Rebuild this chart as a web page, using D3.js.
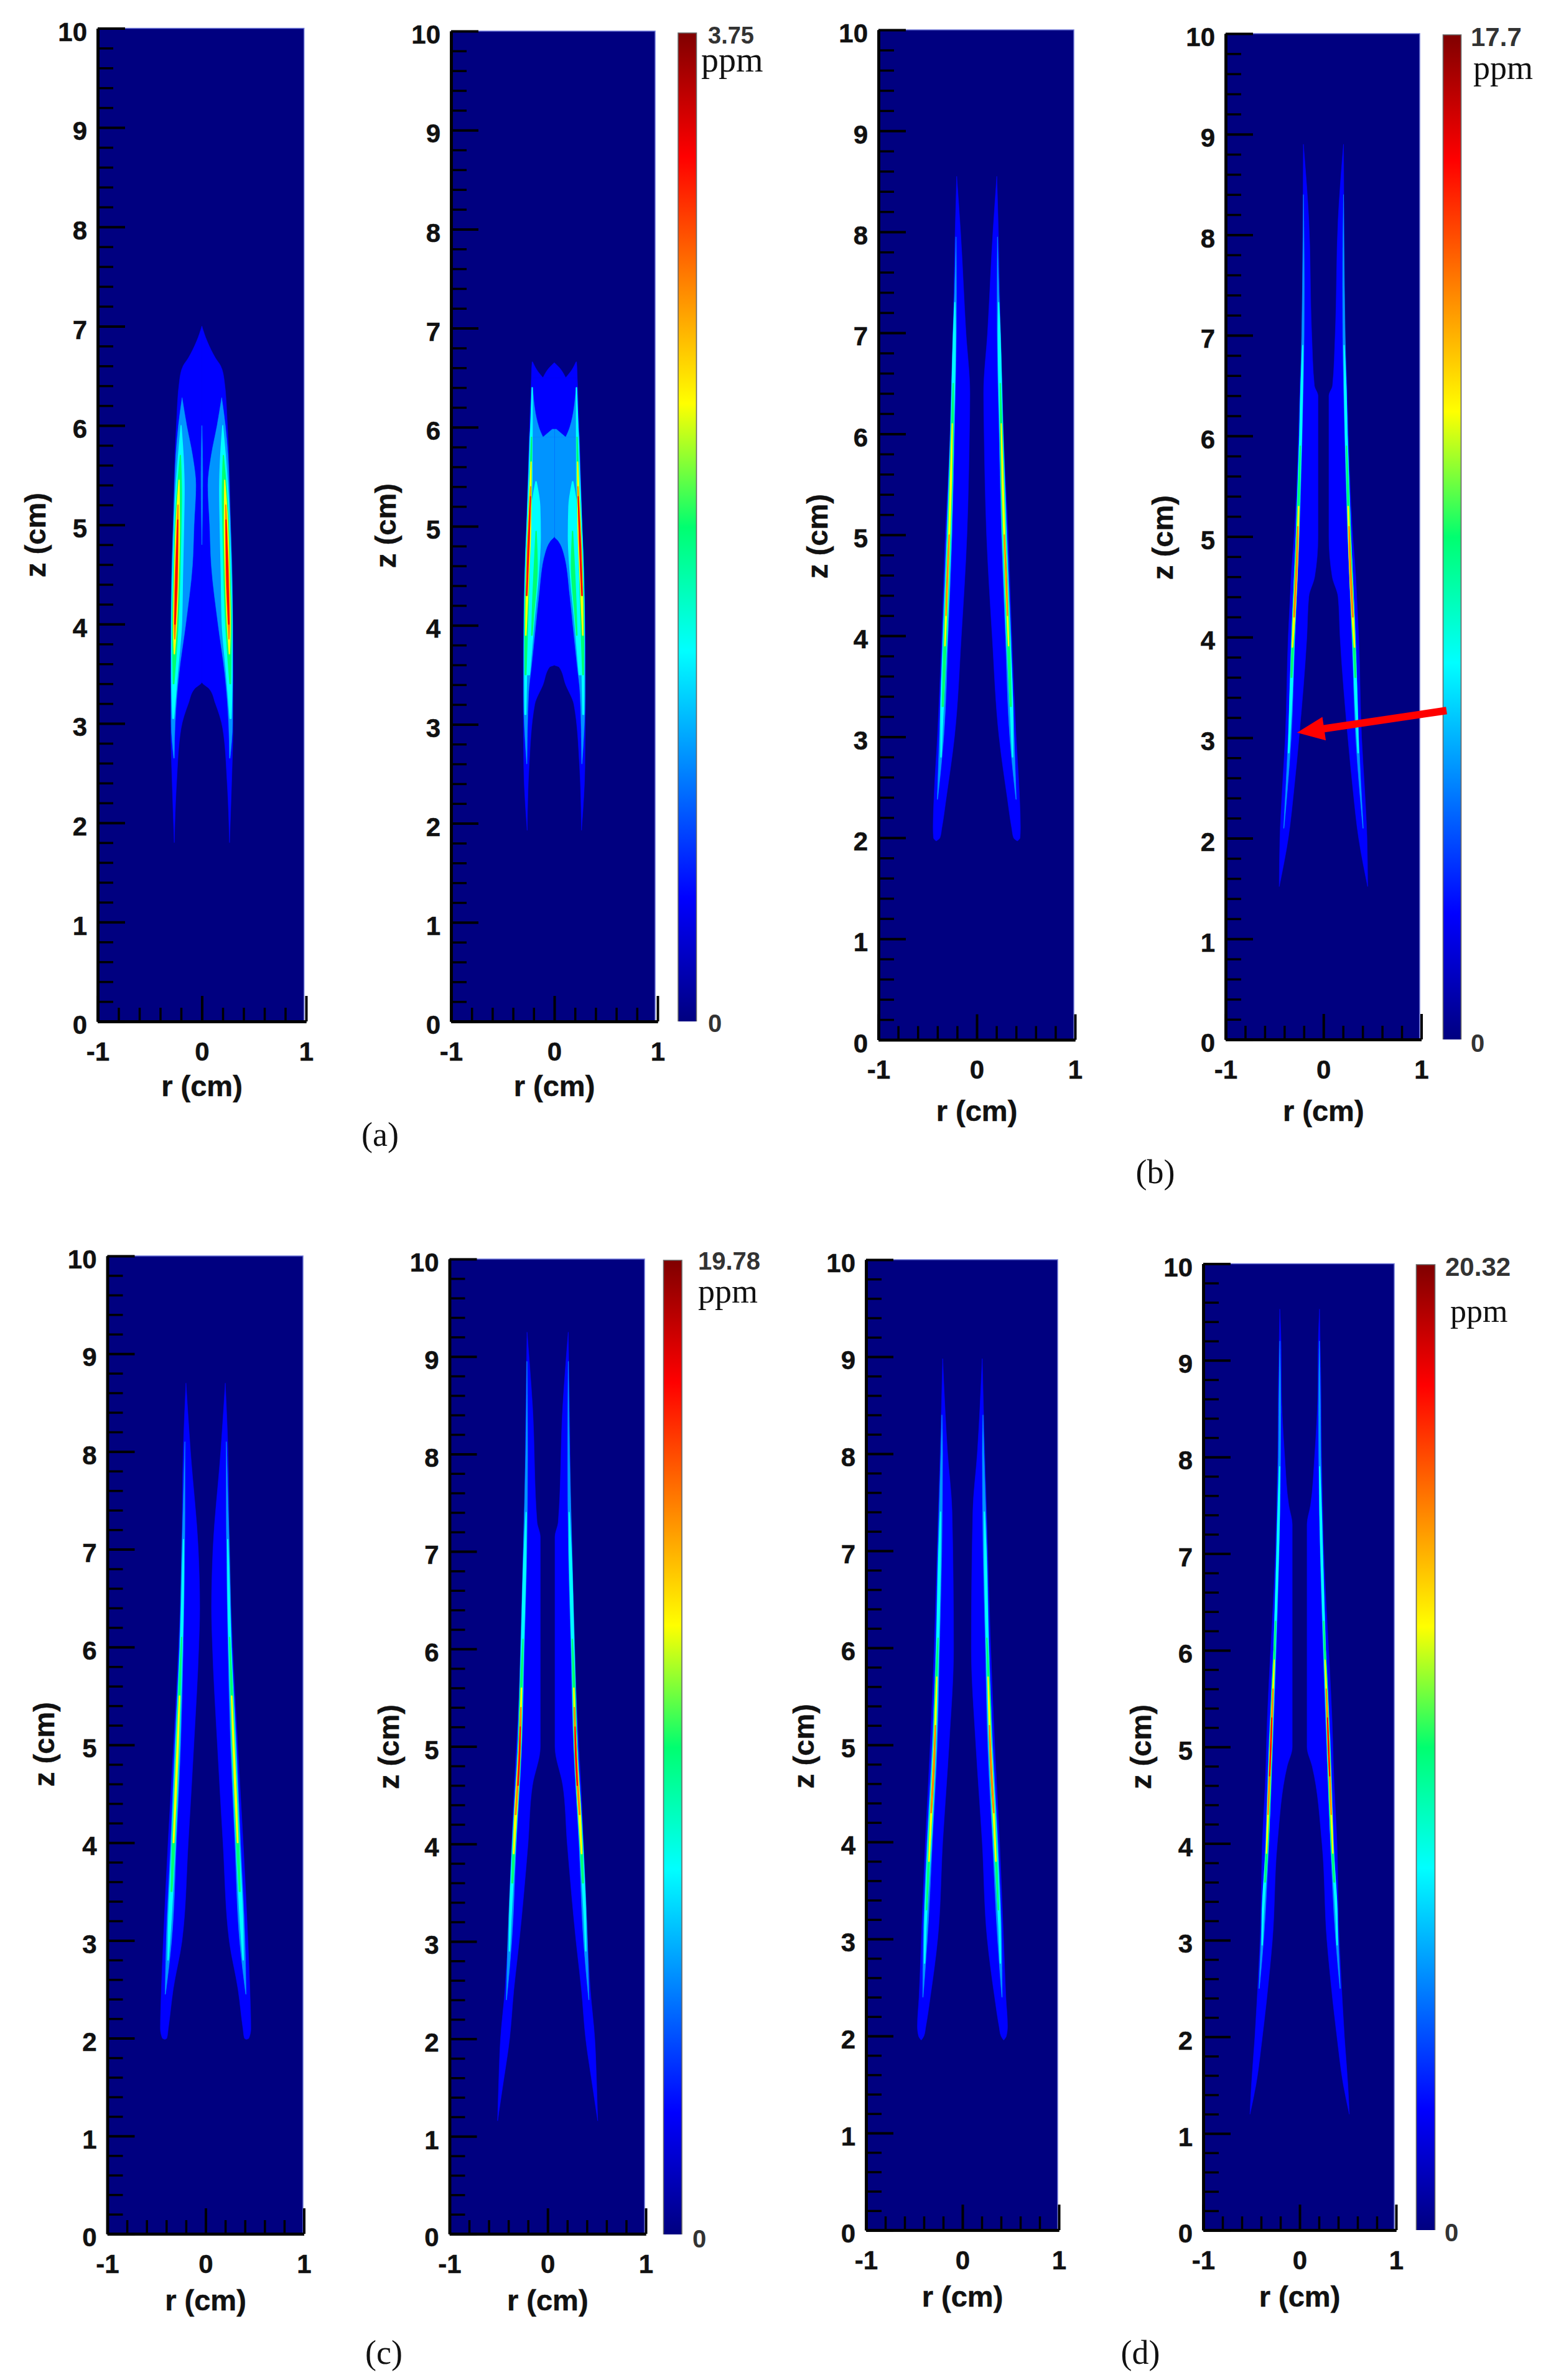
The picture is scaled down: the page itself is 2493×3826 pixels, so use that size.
<!DOCTYPE html>
<html>
<head>
<meta charset="utf-8">
<script src="https://cdn.jsdelivr.net/npm/d3@7"></script>
<style>
  html, body { margin: 0; padding: 0; background: #fff; }
  svg { display: block; }
  .tick text, .axis-title { font-family: "Liberation Sans", Arial, sans-serif; font-weight: bold; fill: #111; stroke: #111; stroke-width: 0.5; }
</style>
</head>
<body>
<div id="chart"></div>
<script>
// colour map of the legend bars
var stopOffsets = [0, 0.125, 0.375, 0.5, 0.625, 0.875, 1];
var stopColors = ["#000080", "#0000ff", "#00ffff", "#00ff70", "#ffff00", "#ff0000", "#800000"];
// fraction of the colour bar for each contour level
var BLUE = 0.125, SKY = 0.27, CYAN = 0.375, GREEN = 0.5, YELLOW = 0.625, ORANGE = 0.75, RED = 0.875;

var zMajor = [0, 1, 2, 3, 4, 5, 6, 7, 8, 9, 10];
var zMinor = [0.2, 0.4, 0.6, 0.8, 1.2, 1.4, 1.6, 1.8, 2.2, 2.4, 2.6, 2.8, 3.2, 3.4, 3.6, 3.8, 4.2, 4.4, 4.6, 4.8,
  5.2, 5.4, 5.6, 5.8, 6.2, 6.4, 6.6, 6.8, 7.2, 7.4, 7.6, 7.8, 8.2, 8.4, 8.6, 8.8, 9.2, 9.4, 9.6, 9.8];
var rMajor = [-1, 0, 1];
var rMajorLabels = ["-1", "0", "1"];
var rMinor = [-0.8, -0.6, -0.4, -0.2, 0.2, 0.4, 0.6, 0.8];

// contour outlines of the right lobe: [z, r inner, r outer]. The left lobe is its mirror.
var a1Blue = [[7.0,0,0],[6.85,0,.05],[6.68,0,.13],[6.6,0,.18],[6.45,0,.215],[6,0,.245],[5,0,.275],[4,0,.295],[3.42,0,.3],[3.35,.07,.298],[3.2,.13,.298],[2.95,.2,.298],[2.4,.243,.285],[1.8,.265,.265]];
var a1Sky = [[6.28,.19,.19],[6,.146,.225],[5.7,.09,.25],[5.4,.058,.262],[5,.075,.275],[4.6,.09,.288],[4,.155,.296],[3.5,.22,.296],[3,.257,.294],[2.65,.265,.27]];
var a1Sliver = [[6,0,.001],[5.5,0,.008],[4.8,0,.001]];
var a1Cyan = [[6,.2,.2],[5.7,.18,.225],[5.35,.17,.25],[5,.175,.265],[4.5,.185,.28],[4,.195,.29],[3.5,.235,.29],[3.05,.27,.28]];
var a1Green = [[5.7,.205,.207],[5.3,.195,.24],[5,.2,.256],[4.5,.21,.27],[4,.228,.282],[3.4,.268,.275]];
var a1Yellow = [[5.45,.218,.22],[5,.215,.248],[4.5,.224,.263],[4,.243,.273],[3.7,.262,.266]];
var a1Orange = [[5.2,.228,.23],[4.5,.232,.256],[4,.252,.266],[3.85,.259,.261]];
var a1Red = [[5.05,.23,.232],[4.5,.238,.25],[4,.256,.26]];

var a2BlueCentre = [[6.65,0,.002],[6.6,0,.05],[6.5,0,.11]];
var a2BlueSide = [[6.66,.21,.215],[6.58,.17,.22],[6.5,.11,.222]];
var a2Blue = [[6.5,0,.222],[6,0,.24],[5,0,.268],[4.4,0,.29],[3.6,0,.3],[3.58,.045,.3],[3.4,.11,.3],[3.2,.19,.3],[2.57,.245,.296],[1.93,.263,.263]];
var a2SkyCentre = [[5.98,0,.02],[5.9,0,.11]];
var a2SkySide = [[6.4,.21,.215],[6,.15,.232],[5.9,.11,.24]];
var a2Sky = [[5.9,0,.24],[5.2,0,.262],[4.9,0,.272],[4.85,.04,.275],[4.73,.09,.28],[4.3,.15,.29],[4,.18,.295],[3.6,.22,.298],[3.3,.25,.298],[2.6,.265,.268]];
var a2CyanRidge = [[6.4,.213,.216],[5.5,.215,.245],[5,.24,.265],[4,.26,.29],[3.1,.275,.285]];
var a2CyanLobe = [[5.45,.175,.18],[5.2,.14,.22],[4.9,.135,.24],[4.5,.155,.26],[4,.2,.28],[3.5,.24,.285]];
var a2GreenRidge = [[5.9,.219,.221],[5.3,.222,.243],[4.7,.238,.268],[4,.258,.286],[3.5,.274,.282]];
var a2GreenLobe = [[4.95,.175,.178],[4.6,.165,.195],[4.1,.2,.215],[3.9,.215,.22]];
var a2Yellow = [[5.65,.224,.226],[5,.228,.253],[4.5,.248,.27],[3.9,.274,.278]];
var a2Orange = [[5.4,.228,.23],[4.8,.243,.258],[4.3,.262,.273]];
var a2Red = [[5.3,.23,.232],[4.8,.245,.254],[4.3,.267,.27]];

var b1Blue = [[8.55,.204,.204],[8,.165,.22],[7,.11,.24],[6.4,.07,.258],[6,.075,.27],[5,.1,.32],[4,.157,.356],[3,.227,.4],[2.4,.31,.435],[2.1,.355,.444],[2,.375,.44],[1.97,.41,.415]];
var b1Sky = [[7.95,.21,.212],[7.4,.207,.226],[7,.208,.242],[6,.228,.27],[5,.252,.308],[4,.292,.348],[3,.336,.38],[2.38,.398,.402]];
var b1Cyan = [[7.3,.222,.224],[7,.218,.236],[6,.237,.263],[5,.262,.298],[4,.302,.338],[3.2,.345,.366],[2.8,.362,.366]];
var b1Green = [[6.5,.238,.24],[6,.24,.26],[5,.268,.292],[4,.308,.332],[3.3,.34,.352]];
var b1Yellow = [[6.1,.248,.25],[5.5,.258,.27],[5,.274,.286],[4.4,.298,.312],[3.9,.322,.326]];
var b1Orange = [[5,.279,.281],[4.5,.299,.306],[4.2,.312,.314]];

var b2Blue = [[8.9,.205,.205],[8.15,.15,.21],[7,.12,.22],[6.5,.093,.24],[6.4,.056,.243],[5,.056,.3],[4.6,.09,.33],[4.4,.15,.34],[4,.17,.36],[3,.25,.39],[2.5,.3,.42],[2,.36,.445],[1.52,.452,.452]];
var b2Sky = [[8.4,.205,.205],[7.5,.196,.214],[7,.198,.222],[6,.218,.247],[5,.248,.282],[4,.292,.328],[3,.33,.36],[2.1,.403,.407]];
var b2Cyan = [[6.9,.21,.212],[6.5,.214,.23],[6,.224,.242],[5,.254,.278],[4,.298,.322],[3.4,.322,.343],[2.85,.352,.358]];
var b2Green = [[5.9,.235,.237],[5,.256,.276],[4,.3,.32],[3.6,.322,.332]];
var b2Yellow = [[5.3,.25,.256],[4.8,.262,.276],[4.2,.292,.308],[3.9,.314,.32]];
var b2Orange = [[5.1,.26,.263],[4.7,.27,.28],[4.2,.296,.304]];

var c1Blue = [[8.7,.2,.2],[8,.154,.228],[7,.075,.242],[6.4,.06,.258],[6,.07,.275],[5,.12,.326],[4,.177,.382],[3,.24,.43],[2.5,.33,.45],[2.1,.38,.46],[2,.395,.44],[1.99,.41,.42]];
var c1Sky = [[8.1,.21,.212],[7.4,.21,.23],[7,.213,.242],[6,.228,.266],[5,.254,.314],[4,.298,.355],[3,.346,.4],[2.45,.408,.412]];
var c1Cyan = [[7.1,.224,.226],[6.6,.226,.24],[6,.238,.258],[5,.267,.301],[4,.31,.342],[3.1,.358,.38],[2.8,.38,.384]];
var c1Green = [[6.1,.243,.245],[5.5,.258,.276],[5,.272,.296],[4,.314,.338],[3.5,.342,.352]];
var c1Yellow = [[5.5,.262,.268],[5,.278,.29],[4.5,.298,.312],[4,.322,.33]];

var c2Blue = [[9.25,.21,.21],[8.5,.155,.222],[7.3,.108,.24],[7.15,.075,.245],[6,.075,.27],[5,.075,.318],[4.6,.155,.34],[4,.2,.365],[3,.29,.405],[2.5,.345,.435],[2,.388,.48],[1.5,.46,.5],[1.16,.51,.51]];
var c2Sky = [[8.95,.21,.212],[8,.204,.224],[7,.212,.248],[6,.238,.276],[5,.264,.308],[4,.32,.363],[3,.366,.406],[2.4,.418,.422]];
var c2Cyan = [[7.4,.218,.22],[7,.221,.24],[6,.246,.268],[5,.272,.298],[4,.328,.356],[3.2,.374,.388],[2.9,.387,.391]];
var c2Green = [[6.1,.25,.252],[5.5,.262,.282],[5,.274,.296],[4,.332,.352],[3.6,.355,.365]];
var c2Yellow = [[5.6,.264,.27],[5,.278,.292],[4.4,.31,.33],[3.9,.342,.35]];
var c2Orange = [[5.4,.27,.274],[5,.28,.29],[4.3,.322,.33]];
var c2Red = [[5.2,.278,.28],[4.9,.284,.29],[4.6,.3,.304]];

var d1Blue = [[8.98,.205,.205],[8,.154,.231],[7.4,.108,.25],[6,.092,.293],[5,.139,.334],[4,.205,.385],[3,.257,.426],[2.4,.334,.45],[2.1,.38,.467],[2,.4,.455],[1.96,.425,.43]];
var d1Sky = [[8.4,.212,.214],[8,.206,.224],[7,.214,.254],[6,.238,.276],[5,.262,.314],[4,.312,.368],[3,.364,.406],[2.4,.408,.412]];
var d1Cyan = [[7.4,.226,.228],[7,.228,.244],[6,.248,.268],[5,.276,.302],[4,.324,.356],[3.1,.378,.392],[2.75,.391,.395]];
var d1Green = [[6.1,.252,.254],[5.5,.268,.286],[5,.28,.298],[4,.33,.35],[3.3,.37,.376]];
var d1Yellow = [[5.7,.264,.268],[5,.283,.295],[4.4,.312,.326],[3.8,.344,.35]];
var d1Orange = [[5.2,.278,.282],[4.8,.29,.3],[4.3,.322,.328]];

var d2Blue = [[9.53,.206,.206],[9,.19,.216],[8.8,.19,.22],[8,.155,.227],[7.5,.113,.238],[7.3,.077,.242],[5,.077,.345],[4.8,.13,.35],[4,.232,.387],[3,.283,.41],[2.7,.31,.425],[2,.387,.464],[1.5,.454,.5],[1.2,.515,.515]];
var d2Sky = [[9.2,.204,.206],[8.5,.196,.216],[8,.198,.22],[7,.214,.242],[6,.244,.272],[5,.28,.32],[4,.32,.353],[3,.374,.401],[2.5,.418,.422]];
var d2Cyan = [[7.9,.206,.208],[7.4,.21,.226],[7,.22,.236],[6,.252,.266],[5,.288,.312],[4,.326,.346],[3.2,.378,.39],[2.95,.387,.39]];
var d2Green = [[6.3,.248,.25],[5.6,.27,.288],[5,.29,.31],[4,.328,.344],[3.6,.355,.362]];
var d2Yellow = [[5.9,.262,.264],[5.4,.278,.29],[5,.293,.306],[4.4,.318,.33],[3.9,.342,.346]];
var d2Orange = [[5.6,.274,.278],[5,.295,.304],[4.3,.326,.33]];
var d2Red = [[5.3,.288,.29],[5,.297,.302],[4.7,.31,.313]];

var layersA1 = [[BLUE,a1Blue],[SKY,a1Sky],[SKY,a1Sliver],[CYAN,a1Cyan],[GREEN,a1Green],[YELLOW,a1Yellow],[ORANGE,a1Orange],[RED,a1Red]];
var layersA2 = [[BLUE,a2BlueCentre],[BLUE,a2BlueSide],[BLUE,a2Blue],[SKY,a2SkyCentre],[SKY,a2SkySide],[SKY,a2Sky],[CYAN,a2CyanRidge],[CYAN,a2CyanLobe],[GREEN,a2GreenRidge],[GREEN,a2GreenLobe],[YELLOW,a2Yellow],[ORANGE,a2Orange],[RED,a2Red]];
var layersB1 = [[BLUE,b1Blue],[SKY,b1Sky],[CYAN,b1Cyan],[GREEN,b1Green],[YELLOW,b1Yellow],[ORANGE,b1Orange]];
var layersB2 = [[BLUE,b2Blue],[SKY,b2Sky],[CYAN,b2Cyan],[GREEN,b2Green],[YELLOW,b2Yellow],[ORANGE,b2Orange]];
var layersC1 = [[BLUE,c1Blue],[SKY,c1Sky],[CYAN,c1Cyan],[GREEN,c1Green],[YELLOW,c1Yellow]];
var layersC2 = [[BLUE,c2Blue],[SKY,c2Sky],[CYAN,c2Cyan],[GREEN,c2Green],[YELLOW,c2Yellow],[ORANGE,c2Orange],[RED,c2Red]];
var layersD1 = [[BLUE,d1Blue],[SKY,d1Sky],[CYAN,d1Cyan],[GREEN,d1Green],[YELLOW,d1Yellow],[ORANGE,d1Orange]];
var layersD2 = [[BLUE,d2Blue],[SKY,d2Sky],[CYAN,d2Cyan],[GREEN,d2Green],[YELLOW,d2Yellow],[ORANGE,d2Orange],[RED,d2Red]];

var maxLabels = ["3.75", "17.7", "19.78", "20.32"];
var captions = ["(a)", "(b)", "(c)", "(d)"];
// arrow in panel b, right plot: [r, z] of tail and tip
var arrowEnds = [[1.258, 3.27], [-0.27, 3.05]];

// page layout
var width = 2493, height = 3826;
var plots = [
  {layers: layersA1, left: 157, fieldRight: 488.7, right: 492, top: 45.4, bottom: 1642, zx: 58, zy: 860, rTitle: 1748},
  {layers: layersA2, left: 725, fieldRight: 1053, right: 1057, top: 50, bottom: 1642, zx: 621, zy: 845, rTitle: 1748},
  {layers: layersB1, left: 1412, fieldRight: 1726, right: 1728, top: 48, bottom: 1671.5, zx: 1315, zy: 862, rTitle: 1788},
  {layers: layersB2, left: 1970, fieldRight: 2282, right: 2284.5, top: 54, bottom: 1671, zx: 1870, zy: 864, rTitle: 1788},
  {layers: layersC1, left: 172.5, fieldRight: 487, right: 488.5, top: 2019, bottom: 3591, zx: 72, zy: 2804, rTitle: 3700},
  {layers: layersC2, left: 722.5, fieldRight: 1036, right: 1038, top: 2024, bottom: 3591, zx: 626, zy: 2808, rTitle: 3700},
  {layers: layersD1, left: 1392, fieldRight: 1700, right: 1702, top: 2025, bottom: 3585, zx: 1293, zy: 2807, rTitle: 3694},
  {layers: layersD2, left: 1934, fieldRight: 2241, right: 2244, top: 2031.5, bottom: 3585, zx: 1835, zy: 2808, rTitle: 3694}
];
var bars = [
  {left: 1090, right: 1119.5, top: 53, bottom: 1642, maxX: 1138, maxY: 70, maxSize: 38, ppmX: 1127, ppmY: 115, ppmSize: 56, zeroX: 1138, zeroY: 1659},
  {left: 2319.5, right: 2348.5, top: 56, bottom: 1671, maxX: 2364, maxY: 74, maxSize: 42, ppmX: 2368, ppmY: 127, ppmSize: 54, zeroX: 2364, zeroY: 1691},
  {left: 1066.5, right: 1096, top: 2026, bottom: 3592, maxX: 1122, maxY: 2041, maxSize: 40, ppmX: 1122, ppmY: 2094, ppmSize: 54, zeroX: 1113, zeroY: 3613},
  {left: 2276.5, right: 2306.5, top: 2033, bottom: 3585, maxX: 2323, maxY: 2051, maxSize: 42, ppmX: 2331, ppmY: 2125, ppmSize: 52, zeroX: 2322, zeroY: 3603}
];
var captionSpots = [[611, 1842], [1857, 1902], [617, 3800], [1833, 3800]];

var jet = d3.scaleLinear().domain(stopOffsets).range(stopColors).interpolate(d3.interpolateRgb);

var svg = d3.select("#chart").append("svg").attr("width", width).attr("height", height);
var defs = svg.append("defs");
var blur = defs.append("filter").attr("id", "soft").attr("x", "-5%").attr("y", "-5%").attr("width", "110%").attr("height", "110%");
blur.append("feGaussianBlur").attr("stdDeviation", 0.7);

var grad = defs.append("linearGradient").attr("id", "jet")
  .attr("x1", 0).attr("x2", 0).attr("y1", 1).attr("y2", 0);
grad.selectAll("stop").data(stopOffsets).enter().append("stop")
  .attr("offset", d => d)
  .attr("stop-color", d => jet(d));

var drawPlot = function (p, i) {
  var x = d3.scaleLinear().domain([-1, 1]).range([p.left, p.right]);
  var y = d3.scaleLinear().domain([0, 10]).range([p.bottom, p.top]);
  p.x = x;
  p.y = y;

  var clipId = "clip" + i;
  defs.append("clipPath").attr("id", clipId).append("rect")
    .attr("x", p.left).attr("y", p.top)
    .attr("width", p.fieldRight - p.left).attr("height", p.bottom - p.top);

  svg.append("rect")
    .attr("x", p.left).attr("y", p.top)
    .attr("width", p.fieldRight - p.left).attr("height", p.bottom - p.top)
    .attr("fill", jet(0));

  // thin lighter edge on top and right of the field
  svg.append("path")
    .attr("d", d3.line()([[p.left, p.top], [p.fieldRight, p.top], [p.fieldRight, p.bottom]]))
    .attr("fill", "none").attr("stroke", "#6f78d8").attr("stroke-width", 1.5);

  var field = svg.append("g").attr("clip-path", "url(#" + clipId + ")")
    .append("g").attr("filter", "url(#soft)");

  [1, -1].forEach(function (side) {
    var area = d3.area()
      .x0(d => x(side * d[1]))
      .x1(d => x(side * d[2]))
      .y(d => y(d[0]))
      .curve(d3.curveMonotoneY);
    field.selectAll(null).data(p.layers).enter().append("path")
      .attr("d", d => area(d[1]))
      .attr("fill", d => jet(d[0]))
      .attr("stroke", d => jet(d[0]))
      .attr("stroke-linejoin", "round")
      .attr("stroke-width", d => d[0] > SKY ? 1.6 : 0.6);
  });

  // axes with inward ticks
  var axisStyle = function (g, w) {
    g.selectAll(".domain").attr("stroke", "#000").attr("stroke-width", 4.5);
    g.selectAll(".tick line").attr("stroke", "#000").attr("stroke-width", w);
  };
  var yMinor = svg.append("g").attr("transform", "translate(" + p.left + ",0)")
    .call(d3.axisLeft(y).tickValues(zMinor).tickSizeInner(-25).tickSizeOuter(0).tickFormat(""));
  axisStyle(yMinor, 3.5);
  var yMajor = svg.append("g").attr("transform", "translate(" + p.left + ",0)")
    .call(d3.axisLeft(y).tickValues(zMajor).tickSizeInner(-44).tickSizeOuter(0).tickPadding(17).tickFormat(d3.format("d")));
  axisStyle(yMajor, 4);
  yMajor.selectAll(".tick text").attr("font-size", 42).attr("dy", "0.47em");

  var xMinor = svg.append("g").attr("transform", "translate(0," + p.bottom + ")")
    .call(d3.axisBottom(x).tickValues(rMinor).tickSizeInner(-22).tickSizeOuter(0).tickFormat(""));
  axisStyle(xMinor, 3.5);
  var xMajor = svg.append("g").attr("transform", "translate(0," + p.bottom + ")")
    .call(d3.axisBottom(x).tickValues(rMajor).tickSizeInner(-41).tickSizeOuter(0).tickPadding(33)
      .tickFormat((d, k) => rMajorLabels[k]));
  axisStyle(xMajor, 4);
  xMajor.selectAll(".tick text").attr("font-size", 42);

  svg.append("text").attr("class", "axis-title")
    .attr("x", (p.left + p.right) / 2).attr("y", p.rTitle)
    .attr("dy", "0.3em").attr("text-anchor", "middle").attr("font-size", 47)
    .text("r (cm)");
  svg.append("text").attr("class", "axis-title")
    .attr("transform", "translate(" + p.zx + "," + p.zy + ") rotate(-90)")
    .attr("dy", "0.32em").attr("text-anchor", "middle").attr("font-size", 47)
    .text("z (cm)");
};

plots.forEach(drawPlot);

bars.forEach(function (b, i) {
  svg.append("rect")
    .attr("x", b.left).attr("y", b.top)
    .attr("width", b.right - b.left).attr("height", b.bottom - b.top)
    .attr("fill", "url(#jet)");
  svg.append("path")
    .attr("d", d3.line()([[b.left, b.bottom], [b.left, b.top], [b.right, b.top], [b.right, b.bottom]]))
    .attr("fill", "none").attr("stroke", "#666").attr("stroke-width", 1.6);
  svg.append("text").attr("x", b.maxX).attr("y", b.maxY)
    .attr("font-family", "Liberation Sans").attr("font-weight", "bold").attr("font-size", b.maxSize).attr("fill", "#333")
    .text(maxLabels[i]);
  svg.append("text").attr("x", b.ppmX).attr("y", b.ppmY)
    .attr("font-family", "Liberation Serif").attr("font-size", b.ppmSize).attr("fill", "#111")
    .text("ppm");
  svg.append("text").attr("x", b.zeroX).attr("y", b.zeroY)
    .attr("font-family", "Liberation Sans").attr("font-weight", "bold").attr("font-size", 40).attr("fill", "#333")
    .text("0");
});

captions.forEach(function (c, i) {
  svg.append("text").attr("x", captionSpots[i][0]).attr("y", captionSpots[i][1])
    .attr("text-anchor", "middle").attr("font-family", "Liberation Serif").attr("font-size", 54).attr("fill", "#111")
    .text(c);
});

// red arrow
var bx = plots[3].x, by = plots[3].y;
var tail = [bx(arrowEnds[0][0]), by(arrowEnds[0][1])];
var tip = [bx(arrowEnds[1][0]), by(arrowEnds[1][1])];
var ang = Math.atan2(tip[1] - tail[1], tip[0] - tail[0]);
var ux = Math.cos(ang), uy = Math.sin(ang);
var headLen = 44, headHalf = 19, shaftHalf = 6;
var neck = [tip[0] - ux * headLen, tip[1] - uy * headLen];
var arrowShape = [
  [tail[0] - uy * shaftHalf, tail[1] + ux * shaftHalf],
  [neck[0] - uy * shaftHalf, neck[1] + ux * shaftHalf],
  [neck[0] - uy * headHalf, neck[1] + ux * headHalf],
  tip,
  [neck[0] + uy * headHalf, neck[1] - ux * headHalf],
  [neck[0] + uy * shaftHalf, neck[1] - ux * shaftHalf],
  [tail[0] + uy * shaftHalf, tail[1] - ux * shaftHalf]
];
svg.append("path").attr("d", d3.line()(arrowShape) + "Z").attr("fill", "#ff0000");
</script>
</body>
</html>
